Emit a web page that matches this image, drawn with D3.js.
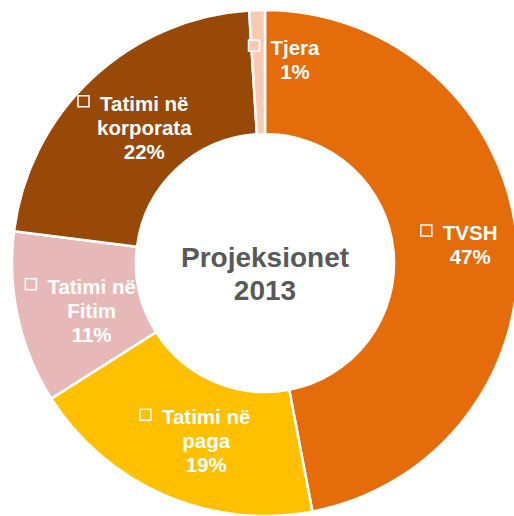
<!DOCTYPE html>
<html>
<meta charset="utf-8">
<script src="https://d3js.org/d3.v7.min.js"></script>
<style>
  body { margin: 0; background: #fff; }
  text { font-family: "Liberation Sans", Arial, sans-serif; font-weight: bold; }
</style>
<body>
<div id="vis"></div>
<script>
  // data
  var categories = ["TVSH", "Tatimi në paga", "Tatimi në Fitim", "Tatimi në korporata", "Tjera"];
  var shares = [47, 19, 11, 22, 1];
  var colors = ["#E46C0A", "#FFC000", "#E6B9B8", "#984807", "#F9CAB3"];
  var centerTitle = ["Projeksionet", "2013"];

  // small label nudges, like the ones the original chart did by hand
  var labelNudge = [[4, 0], [6, 3], [2, 6], [-1, 4], [25, -12]];

  var total_width = 514,
      total_height = 516,
      cx = 265, cy = 263,
      outerR = 253, innerR = 129;

  var svg = d3.select("#vis")
    .append("svg")
      .attr("width", total_width)
      .attr("height", total_height)
    .append("g")
      .attr("transform", "translate(" + cx + "," + cy + ")");

  var rows = categories.map(function(c, i) {
    return { name: c, value: shares[i], color: colors[i], i: i };
  });

  var pie = d3.pie()
    .sort(null)
    .value(function(d) { return d.value; });

  var arc = d3.arc()
    .innerRadius(innerR)
    .outerRadius(outerR);

  var labelArc = d3.arc()
    .innerRadius(191)
    .outerRadius(191);

  var arcs = pie(rows);

  svg.selectAll("path.slice")
    .data(arcs)
    .enter()
    .append("path")
      .attr("class", "slice")
      .attr("d", arc)
      .attr("fill", function(d) { return d.data.color; })
      .attr("stroke", "#fff")
      .attr("stroke-width", 2.5);

  // data labels: legend key + category + percent
  var fontSize = 20.5, lineH = 24, keySize = 11, keyGap = 11;

  arcs.forEach(function(d) {
    var c = labelArc.centroid(d);
    var nudge = labelNudge[d.data.i];
    var lines = d.data.name.replace("Tatimi në ", "Tatimi në\n").split("\n");
    lines.push(d.data.value + "%");

    var tx = c[0] + (keySize + keyGap) / 2 + nudge[0];
    var midY = c[1] + nudge[1];
    var y0 = midY - (lines.length - 1) * lineH / 2 + 7;

    var g = svg.append("g").attr("class", "label");
    var first;
    lines.forEach(function(l, k) {
      var t = g.append("text")
        .attr("x", tx)
        .attr("y", y0 + k * lineH)
        .attr("text-anchor", "middle")
        .attr("fill", "#fff")
        .style("font-size", fontSize + "px")
        .text(l);
      if (k === 0) first = t;
    });
    var w = first.node().getComputedTextLength();
    g.append("rect")
      .attr("x", tx - w / 2 - keyGap - keySize)
      .attr("y", y0 - 15)
      .attr("width", keySize)
      .attr("height", keySize)
      .attr("fill", d.data.color)
      .attr("stroke", "#fff")
      .attr("stroke-width", 1.5);
  });

  // center title
  svg.selectAll("text.title")
    .data(centerTitle)
    .enter()
    .append("text")
      .attr("class", "title")
      .attr("x", 0)
      .attr("y", function(d, i) { return 4 + i * 33; })
      .attr("text-anchor", "middle")
      .attr("fill", "#595959")
      .style("font-size", "28px")
      .text(function(d) { return d; });
</script>
</body>
</html>
